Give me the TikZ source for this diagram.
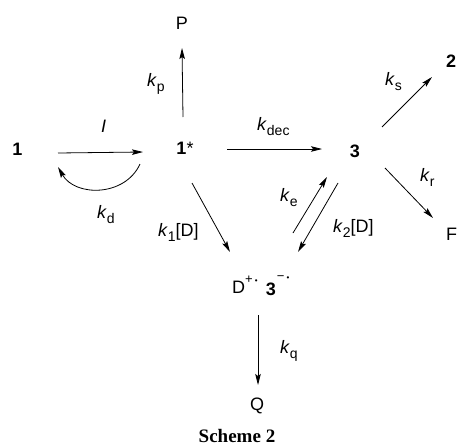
\documentclass[tikz,border=0pt]{standalone}
\usepackage{fontspec}
\setmainfont{Liberation Sans}
\newfontfamily\capfont{Liberation Serif}
\usetikzlibrary{arrows.meta}
\newcommand\kr[1]{\textit{k}\raisebox{-0.3em}{\fontsize{14}{14}\selectfont #1}}
\newcommand\rdot{{\fontsize{8}{8}\selectfont •}}
\begin{document}
\begin{tikzpicture}[x=1pt,y=-1pt,
  every node/.style={inner sep=0pt,font=\fontsize{18}{20}\selectfont},
  lbl/.style={anchor=base west},
  sp/.style={anchor=base},
  arr/.style={-{Stealth[length=11pt,width=5.5pt,inset=2pt]},line width=0.8pt}]
\useasboundingbox (0,0) rectangle (458,447);
% species
\node[sp] (n1) at (17.5,155) {\textbf{1}};
\node[sp] (n1s) at (185,154) {\textbf{1}*};
\node[sp] (n3) at (355,157) {\textbf{3}};
\node[sp] (P) at (182,29) {P};
\node[anchor=base west] (n2) at (446,67) {\textbf{2}};
\node[anchor=base west] (F) at (446,240) {F};
\node[anchor=base west] (ion) at (232,293) {D\raisebox{0.55em}{\fontsize{13}{13}\selectfont +\,\rdot}\hspace{8pt}\raisebox{-2pt}{\textbf{3}}\raisebox{0.7em}{\fontsize{13}{13}\selectfont \hspace{1pt}−\,\rdot}};
\node[sp] (Q) at (257,410) {Q};
% arrows
\draw[arr] ([shift={(40.5,-2)}]n1.base) -- ([shift={(-42,-2)}]n1s.base);
\draw[arr] ([shift={(-45,10)}]n1s.base) .. controls ([shift={(-60,43)}]n1s.base) and ([shift={(-110,43)}]n1s.base) .. ([shift={(-127,13)}]n1s.base);
\draw[arr] ([shift={(-2,-37)}]n1s.base) -- ([shift={(0,19)}]P.base);
\draw[arr] ([shift={(42,-5)}]n1s.base) -- ([shift={(-33,-8)}]n3.base);
\draw[arr] ([shift={(7,29)}]n1s.base) -- ([shift={(-2,-41)}]ion.base west);
\draw[arr] ([shift={(61,-60)}]ion.base west) -- ([shift={(-28,20)}]n3.base);
\draw[arr] ([shift={(-17,26)}]n3.base) -- ([shift={(66,-41)}]ion.base west);
\draw[arr] ([shift={(27,-30)}]n3.base) -- ([shift={(-14,10)}]n2.base west);
\draw[arr] ([shift={(30,11)}]n3.base) -- ([shift={(-13,-22)}]F.base west);
\draw[arr] ([shift={(26,22)}]ion.base west) -- ([shift={(1,-25)}]Q.base);
% labels
\node[lbl] (lI) at (101,132) {\textit{I}};
\node[lbl] (lkd) at (97,218) {\kr{d}};
\node[lbl] (lkp) at (147,86) {\kr{p}};
\node[lbl] (lkdec) at (257,130) {\kr{dec}};
\node[lbl] (lk1) at (158,236) {\kr{1}[D]};
\node[lbl] (lke) at (280,201) {\kr{e}};
\node[lbl] (lk2) at (333,232) {\kr{2}[D]};
\node[lbl] (lks) at (385,85) {\kr{s}};
\node[lbl] (lkr) at (420,181) {\kr{r}};
\node[lbl] (lkq) at (280,353) {\kr{q}};
\node[anchor=base] (cap) at (237,442) {\capfont\fontsize{19}{20}\selectfont\bfseries Scheme 2};
\end{tikzpicture}
\end{document}
